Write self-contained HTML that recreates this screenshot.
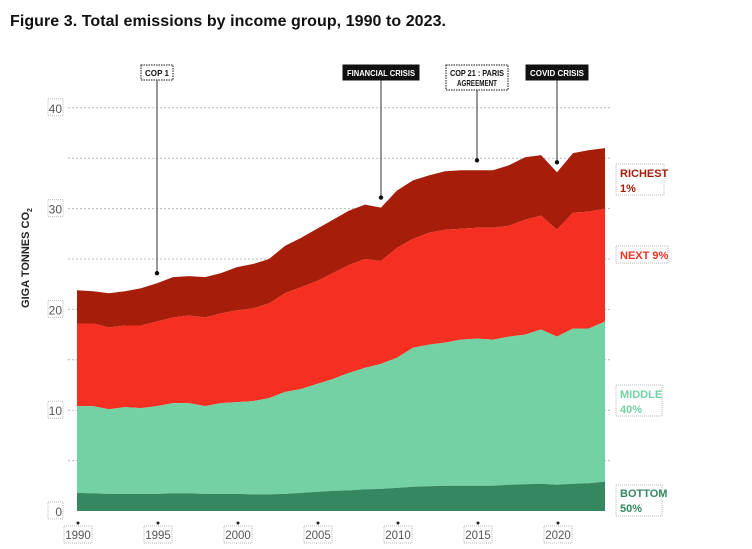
<!DOCTYPE html>
<html><head><meta charset="utf-8"><style>
body{margin:0;background:#fff;width:752px;height:544px;overflow:hidden;font-family:"Liberation Sans",sans-serif}
</style></head><body>
<svg width="752" height="544" xmlns="http://www.w3.org/2000/svg">
<text x="10" y="26" font-size="16" font-weight="bold" fill="#111" textLength="436">Figure 3. Total emissions by income group, 1990 to 2023.</text>
<g id="grid"></g><g id="areas"></g><g id="axes"></g><g id="ann"></g>
<text transform="translate(29,258) rotate(-90)" text-anchor="middle" font-size="11" font-weight="bold" fill="#222">GIGA TONNES CO<tspan font-size="7" dy="3">2</tspan></text>
<g fill="none" stroke="#bbb" stroke-dasharray="1,1">
<rect x="616" y="164" width="48" height="31"/><rect x="616" y="246" width="52" height="17"/>
<rect x="616" y="385" width="46" height="31"/><rect x="616" y="485" width="46" height="31"/>
</g>
<g font-size="11" font-weight="bold">
<text x="620" y="177" fill="#a61e0a">RICHEST<tspan x="620" dy="15">1%</tspan></text>
<text x="620" y="259" fill="#f03222">NEXT 9%</text>
<text x="620" y="398" fill="#73d1a3">MIDDLE<tspan x="620" dy="15">40%</tspan></text>
<text x="620" y="497" fill="#35875f">BOTTOM<tspan x="620" dy="15">50%</tspan></text>
</g>
</svg>
<script>
const years=[];for(let y=1990;y<=2023;y++)years.push(y);
const bottomTop=[1.8,1.75,1.7,1.7,1.7,1.7,1.75,1.75,1.7,1.7,1.7,1.65,1.65,1.7,1.8,1.9,2.0,2.05,2.15,2.2,2.3,2.4,2.45,2.5,2.5,2.5,2.5,2.6,2.65,2.7,2.6,2.7,2.75,2.9];
const middleTop=[10.4,10.4,10.1,10.3,10.2,10.4,10.7,10.7,10.4,10.7,10.8,10.9,11.2,11.8,12.1,12.6,13.1,13.7,14.2,14.6,15.2,16.2,16.5,16.7,17.0,17.1,17.0,17.3,17.5,18.0,17.3,18.1,18.1,18.8];
const nextTop=[18.6,18.6,18.2,18.4,18.4,18.8,19.2,19.4,19.2,19.6,19.9,20.1,20.6,21.6,22.2,22.8,23.6,24.4,25.0,24.8,26.1,27.0,27.6,27.9,28.0,28.1,28.1,28.3,28.9,29.3,27.9,29.6,29.7,30.0];
const totalTop=[21.9,21.8,21.6,21.8,22.1,22.6,23.2,23.3,23.2,23.6,24.2,24.5,25.0,26.3,27.1,28.0,28.9,29.8,30.4,30.1,31.8,32.8,33.3,33.7,33.8,33.8,33.8,34.3,35.1,35.3,33.6,35.5,35.8,36.0];
const yTicks=[0,10,20,30,40];
const xTicks=[1990,1995,2000,2005,2010,2015,2020];
const events=[{year:1995,label:["COP 1"],dark:false},{year:2009,label:["FINANCIAL CRISIS"],dark:true},{year:2015,label:["COP 21 : PARIS","AGREEMENT"],dark:false},{year:2020,label:["COVID CRISIS"],dark:true}];
const boxW=[32,76,62,62];
const X=y=>77+(y-1990)*16.0, Y=v=>511-v*10.08;
const NS="http://www.w3.org/2000/svg";
function mk(t,a,p){const e=document.createElementNS(NS,t);for(const k in a)e.setAttribute(k,a[k]);p.appendChild(e);return e;}
const grid=document.getElementById('grid');
for(let v=5;v<=40;v+=5){const l=mk('line',{x1:68,x2:610,y1:Y(v),y2:Y(v),stroke:'#bbb','stroke-dasharray':'2,2'},grid);

}
const areas=document.getElementById('areas');
const layers=[[totalTop,nextTop,'#a61e0a','area-richest-1'],[nextTop,middleTop,'#f53022','area-next-9'],[middleTop,bottomTop,'#73d1a3','area-middle-40'],[bottomTop,null,'#35875f','area-bottom-50']];
layers.forEach(([top,bot,c,n])=>{let d='';top.forEach((v,i)=>{d+=(i?'L':'M')+X(years[i])+','+Y(v);});
for(let i=years.length-1;i>=0;i--)d+='L'+X(years[i])+','+Y(bot?bot[i]:0);
const p=mk('path',{d:d+'Z',fill:c},areas);

});
const ax=document.getElementById('axes');
yTicks.forEach(v=>{const g=mk('g',{},ax);


mk('rect',{x:48,y:Y(v)-9,width:15,height:17,fill:'none',stroke:'#bbb','stroke-dasharray':'1,1'},g);
const t=mk('text',{x:62,y:Y(v)+5,'text-anchor':'end','font-size':12,fill:'#555'},g);t.textContent=v;});
xTicks.forEach(y=>{const g=mk('g',{},ax);


mk('circle',{cx:X(y)+1,cy:523,r:1.5,fill:'#222'},g);
mk('rect',{x:X(y)-13,y:526,width:28,height:17,fill:'none',stroke:'#bbb','stroke-dasharray':'1,1'},g);
const t=mk('text',{x:X(y)+1,y:539,'text-anchor':'middle','font-size':11.5,fill:'#555'},g);t.textContent=y;});
const ann=document.getElementById('ann');
events.forEach((e,j)=>{const i=years.indexOf(e.year);const x=X(e.year),dy=Y(totalTop[i])-10;
const g=mk('g',{},ann);


const w=boxW[j],h=e.label.length*10+5,by=65;
mk('line',{x1:x,x2:x,y1:by+h,y2:dy,stroke:'#555','stroke-width':1.2},g);
mk('circle',{cx:x,cy:dy,r:2.2,fill:'#111'},g);
mk('rect',{x:x-w/2,y:by,width:w,height:h,fill:e.dark?'#111':'#fff',stroke:'#111','stroke-dasharray':e.dark?'':'1.5,1'},g);
e.label.forEach((s,k)=>{const t=mk('text',{x:x,y:by+11+k*10,'text-anchor':'middle','font-size':8.5,'font-weight':'bold',fill:e.dark?'#fff':'#111',textLength:w-8,lengthAdjust:'spacingAndGlyphs'},g);if(s.length<10&&e.label.length>1)t.setAttribute('textLength',w-22);t.textContent=s;});});
</script>
</body></html>
